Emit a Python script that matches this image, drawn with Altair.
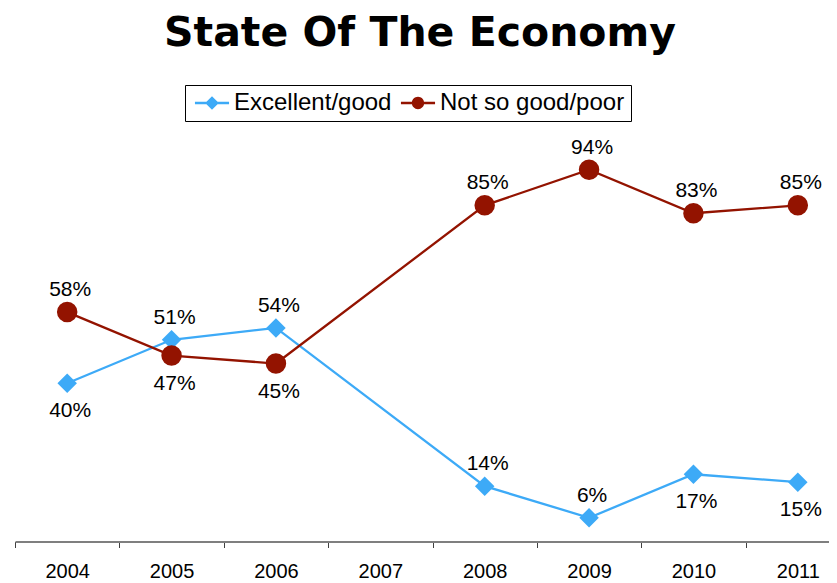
import altair as alt
import pandas as pd

# ---- data ----
YEARS = ["2004", "2005", "2006", "2007", "2008", "2009", "2010", "2011"]
EXCELLENT_GOOD = [40, 51, 54, None, 14, 6, 17, 15]
NOT_SO_GOOD_POOR = [58, 47, 45, None, 85, 94, 83, 85]
SERIES = ["Excellent/good", "Not so good/poor"]
# where each value label sits relative to its marker
SIDE_EXCELLENT = ["below", "above", "above", None, "above", "above", "below", "below"]
SIDE_NOT_SO_GOOD = ["above", "below", "below", None, "above", "above", "above", "above"]

COLORS = ["#3DAAF7", "#931300"]
FONT = "Liberation Sans"

rows = []
for series, values, sides in [
    (SERIES[0], EXCELLENT_GOOD, SIDE_EXCELLENT),
    (SERIES[1], NOT_SO_GOOD_POOR, SIDE_NOT_SO_GOOD),
]:
    for year, v, s in zip(YEARS, values, sides):
        if v is not None:
            rows.append({"year": year, "series": series, "value": v,
                         "label": f"{v}%", "side": s})
df = pd.DataFrame(rows)

# legend symbols: a line segment with the marker on it
LINE = "M-1.55,-0.11H1.55V0.11H-1.55Z"
LEG_DIAMOND = LINE + "M0,-0.62L0.62,0L0,0.62L-0.62,0Z"
LEG_CIRCLE = LINE + "M-0.56,0A0.56,0.56,0,1,1,0.56,0A0.56,0.56,0,1,1,-0.56,0Z"

x_enc = alt.X(
    "year:O",
    scale=alt.Scale(type="band", domain=YEARS, range=[0, 835],
                    paddingInner=0, paddingOuter=0),
    axis=alt.Axis(title=None, labelAngle=0, tickBand="extent", grid=False,
                  domainColor="#7f7f7f", domainWidth=1.8,
                  tickColor="#404040", tickWidth=1, tickSize=6,
                  labelPadding=14, labelFont=FONT, labelFontSize=20,
                  labelColor="black"),
)
y_enc = alt.Y("value:Q", scale=alt.Scale(domain=[0, 100], nice=False), axis=None)
color_scale = alt.Scale(domain=SERIES, range=COLORS)
color_nolegend = alt.Color("series:N", scale=color_scale, legend=None)

base = alt.Chart(df)

legend_props = dict(
    title=None, orient="none", legendX=170, legendY=-61, direction="horizontal",
    strokeColor="black", padding=6, symbolSize=484, symbolOffset=9,
    labelOffset=10, columnPadding=5, labelFont=FONT, labelFontSize=24,
    labelColor="black", labelLimit=400, symbolStrokeWidth=0, symbolOpacity=1,
)

# first layer: draws nothing, only carries the legend
legend_layer = base.transform_filter("false").mark_point(
    filled=True, size=484, opacity=1
).encode(
    x=x_enc, y=y_enc,
    color=alt.Color("series:N", scale=color_scale, legend=alt.Legend(**legend_props)),
    shape=alt.Shape("series:N",
                    scale=alt.Scale(domain=SERIES, range=[LEG_DIAMOND, LEG_CIRCLE]),
                    legend=alt.Legend(**legend_props)),
)

lines = base.mark_line(strokeWidth=2.3).encode(x=x_enc, y=y_enc, color=color_nolegend)

diamonds = base.transform_filter(alt.datum.series == SERIES[0]).mark_point(
    shape="diamond", filled=True, size=380, opacity=1
).encode(x=x_enc, y=y_enc, color=color_nolegend)

circles = base.transform_filter(alt.datum.series == SERIES[1]).mark_point(
    shape="circle", filled=True, size=420, opacity=1
).encode(x=x_enc, y=y_enc, color=color_nolegend)

labels_above = base.transform_filter(alt.datum.side == "above").mark_text(
    font=FONT, fontSize=21, color="black", baseline="middle", dy=-22, dx=3
).encode(x=x_enc, y=y_enc, text="label:N")

labels_below = base.transform_filter(alt.datum.side == "below").mark_text(
    font=FONT, fontSize=21, color="black", baseline="middle", dy=28, dx=3
).encode(x=x_enc, y=y_enc, text="label:N")

chart = alt.layer(
    legend_layer, lines, diamonds, circles, labels_above, labels_below
).properties(
    width=814,
    height=395.5,
    title=alt.TitleParams(
        "State Of The Economy", font="DejaVu Sans", fontSize=41,
        fontWeight="bold", color="black", anchor="middle", frame="group",
        offset=30, dx=-2,
    ),
    autosize=alt.AutoSizeParams(type="none"),
    padding={"left": 7, "top": 138, "right": 0, "bottom": 45},
).configure_view(stroke=None)

chart.save("out.html", embed_options={"renderer": "svg", "actions": False})
